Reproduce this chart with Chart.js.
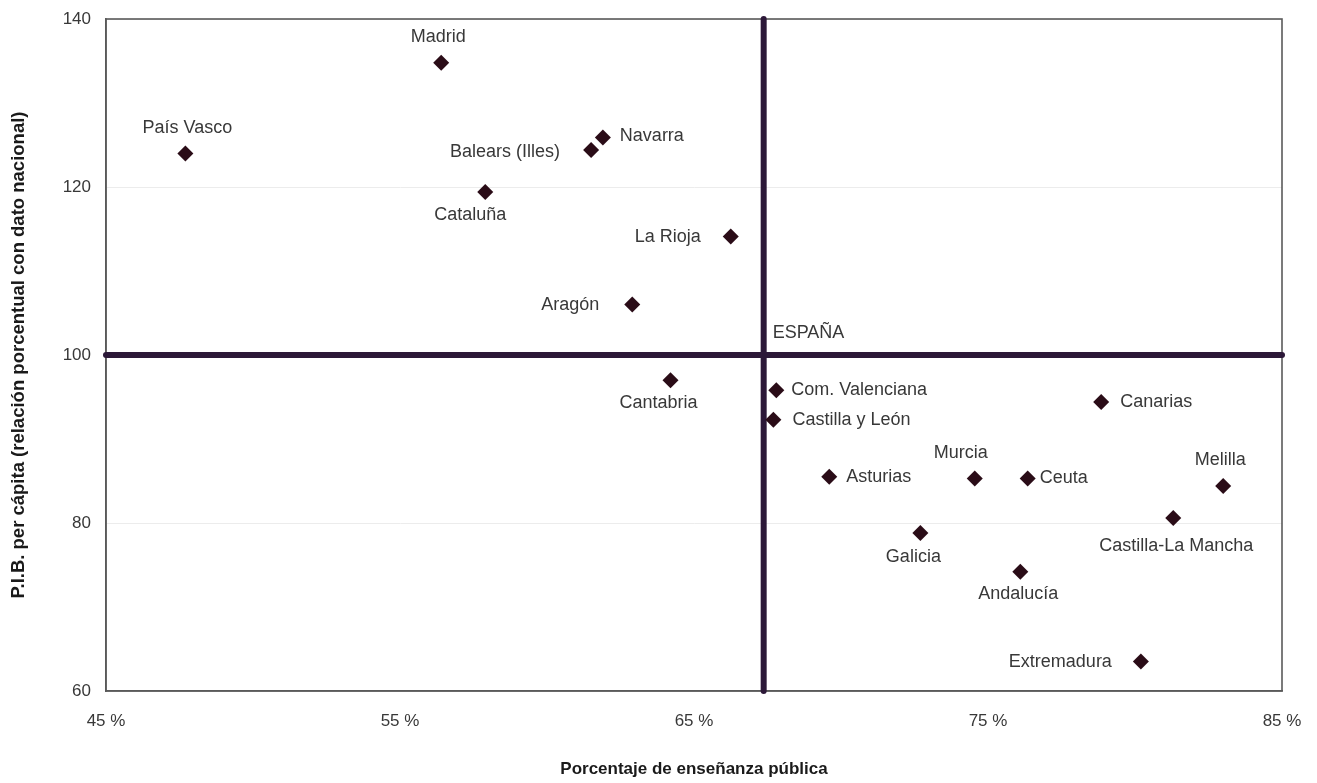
<!DOCTYPE html>
<html>
<head>
<meta charset="utf-8">
<script src="https://cdn.jsdelivr.net/npm/chart.js@4.4.0/dist/chart.umd.min.js"></script>
<style>
  html, body { margin: 0; padding: 0; background: #ffffff; }
  #wrap { width: 1317px; height: 783px; position: relative; }
</style>
</head>
<body>
<div id="wrap"><canvas id="c" width="1317" height="783"></canvas></div>
<script>
// ---- Data ----
const regions = ['País Vasco','Madrid','Navarra','Balears (Illes)','Cataluña','La Rioja','Aragón',
  'Cantabria','Com. Valenciana','Castilla y León','Asturias','Murcia','Ceuta','Canarias',
  'Melilla','Castilla-La Mancha','Galicia','Andalucía','Extremadura'];
const ensenanzaPublica = [47.7, 56.4, 61.9, 61.5, 57.9, 66.25, 62.9,
  64.2, 67.8, 67.7, 69.6, 74.55, 76.35, 78.85,
  83.0, 81.3, 72.7, 76.1, 80.2];
const pibPerCapita = [124.0, 134.8, 125.9, 124.4, 119.4, 114.1, 106.0,
  97.0, 95.8, 92.3, 85.5, 85.3, 85.3, 94.4,
  84.4, 80.6, 78.8, 74.2, 63.5];
const espanaLabel = 'ESPAÑA';
const espanaX = 67.37;
const espanaY = 100;
const xTickValues = [45, 55, 65, 75, 85];
const xTickLabels = ['45 %', '55 %', '65 %', '75 %', '85 %'];
const yTickValues = [60, 80, 100, 120, 140];
const yTickLabels = ['60', '80', '100', '120', '140'];
const xTitle = 'Porcentaje de enseñanza pública';
const yTitle = 'P.I.B. per cápita (relación porcentual con dato nacional)';

// ---- Label layout (placement of each region's text relative to its marker) ----
const labelLayout = [
  {a:'center', dx:2, dy:-25},   // País Vasco
  {a:'center', dx:-3, dy:-26},  // Madrid
  {a:'left', dx:17, dy:-1},     // Navarra
  {a:'right', dx:-31, dy:2},    // Balears
  {a:'center', dx:-15, dy:23},  // Cataluña
  {a:'right', dx:-30, dy:0},    // La Rioja
  {a:'right', dx:-33, dy:0},    // Aragón
  {a:'center', dx:-12, dy:23},  // Cantabria
  {a:'left', dx:15, dy:0},      // Com. Valenciana
  {a:'left', dx:19, dy:0},      // Castilla y León
  {a:'left', dx:17, dy:0},      // Asturias
  {a:'center', dx:-14, dy:-25}, // Murcia
  {a:'left', dx:12, dy:0},      // Ceuta
  {a:'left', dx:19, dy:0},      // Canarias
  {a:'center', dx:-3, dy:-26},  // Melilla
  {a:'center', dx:3, dy:28},    // Castilla-La Mancha
  {a:'center', dx:-7, dy:24},   // Galicia
  {a:'center', dx:-2, dy:22},   // Andalucía
  {a:'right', dx:-29, dy:0}     // Extremadura
];
const espanaLayout = {a:'left', dx:9, dy:-22};

const FONT = '"Liberation Sans", Arial, Helvetica, sans-serif';
const LINE_COLOR = '#2c1838';
const POINT_COLOR = '#2a0c17';
const TEXT_COLOR = '#383838';

const points = regions.map((r, i) => ({x: ensenanzaPublica[i], y: pibPerCapita[i]}));

const labelPlugin = {
  id: 'pointLabels',
  afterDatasetsDraw(chart) {
    const ctx = chart.ctx;
    ctx.save();
    ctx.font = '18px ' + FONT;
    ctx.fillStyle = TEXT_COLOR;
    ctx.textBaseline = 'middle';
    const meta = chart.getDatasetMeta(0);
    meta.data.forEach((el, i) => {
      const l = labelLayout[i];
      ctx.textAlign = l.a;
      ctx.fillText(regions[i], el.x + l.dx, el.y + l.dy);
    });
    const em = chart.getDatasetMeta(3).data[0];
    ctx.textAlign = espanaLayout.a;
    ctx.fillText(espanaLabel, em.x + espanaLayout.dx, em.y + espanaLayout.dy);
    ctx.restore();
  }
};

const framePlugin = {
  id: 'frame',
  beforeDatasetsDraw(chart) {
    const {ctx, chartArea: a} = chart;
    ctx.save();
    ctx.strokeStyle = '#5a5a5a';
    ctx.lineWidth = 1.6;
    ctx.strokeRect(a.left, a.top, a.right - a.left, a.bottom - a.top);
    ctx.restore();
  }
};

new Chart(document.getElementById('c'), {
  type: 'scatter',
  data: {
    datasets: [
      {
        label: 'CCAA',
        data: points,
        pointStyle: 'rectRot',
        pointRadius: 8,
        pointHoverRadius: 8,
        backgroundColor: POINT_COLOR,
        borderColor: POINT_COLOR,
        borderWidth: 0,
        order: 0
      },
      {
        label: 'h',
        type: 'line',
        data: [{x: xTickValues[0], y: espanaY}, {x: xTickValues[xTickValues.length - 1], y: espanaY}],
        borderColor: LINE_COLOR,
        borderWidth: 6,
        borderCapStyle: 'round',
        pointRadius: 0,
        fill: false,
        clip: false,
        order: 2
      },
      {
        label: 'v',
        type: 'line',
        data: [{x: espanaX, y: yTickValues[0]}, {x: espanaX, y: yTickValues[yTickValues.length - 1]}],
        borderColor: LINE_COLOR,
        borderWidth: 6,
        borderCapStyle: 'round',
        pointRadius: 0,
        fill: false,
        clip: false,
        order: 2
      },
      {
        label: espanaLabel,
        data: [{x: espanaX, y: espanaY}],
        pointRadius: 0,
        order: 1
      }
    ]
  },
  options: {
    responsive: false,
    animation: false,
    devicePixelRatio: 1,
    layout: { padding: { left: 0, right: 35, top: 19, bottom: 0 } },
    plugins: {
      legend: { display: false },
      tooltip: { enabled: false },
      title: { display: false }
    },
    scales: {
      x: {
        type: 'linear',
        min: xTickValues[0],
        max: xTickValues[xTickValues.length - 1],
        afterBuildTicks: (s) => { s.ticks = xTickValues.map(v => ({value: v})); },
        afterFit: (s) => { s.height = 92; s.paddingLeft = 0; s.paddingRight = 0; },
        grid: { display: false, drawTicks: false },
        border: { display: true, color: '#5a5a5a', width: 1.6 },
        ticks: {
          padding: 20,
          color: TEXT_COLOR,
          font: { family: FONT, size: 17 },
          maxRotation: 0,
          callback: (v) => { const i = xTickValues.indexOf(v); return i >= 0 ? xTickLabels[i] : ''; }
        },
        title: {
          display: true,
          text: xTitle,
          color: '#1a1a1a',
          font: { family: FONT, size: 17, weight: 'bold' },
          padding: { top: 4, bottom: 3 }
        }
      },
      y: {
        type: 'linear',
        min: yTickValues[0],
        max: yTickValues[yTickValues.length - 1],
        afterBuildTicks: (s) => { s.ticks = yTickValues.map(v => ({value: v})); },
        afterFit: (s) => { s.width = 106; s.paddingTop = 0; s.paddingBottom = 0; },
        grid: { display: true, drawTicks: false, color: '#ececec', lineWidth: 1 },
        border: { display: true, color: '#5a5a5a', width: 1.6 },
        ticks: {
          padding: 15,
          color: TEXT_COLOR,
          font: { family: FONT, size: 17 },
          callback: (v) => { const i = yTickValues.indexOf(v); return i >= 0 ? yTickLabels[i] : ''; }
        },
        title: {
          display: true,
          text: yTitle,
          color: '#1a1a1a',
          font: { family: FONT, size: 18.5, weight: 'bold' },
          padding: { top: 8, bottom: 4 }
        }
      }
    }
  },
  plugins: [framePlugin, labelPlugin]
});
</script>
</body>
</html>
